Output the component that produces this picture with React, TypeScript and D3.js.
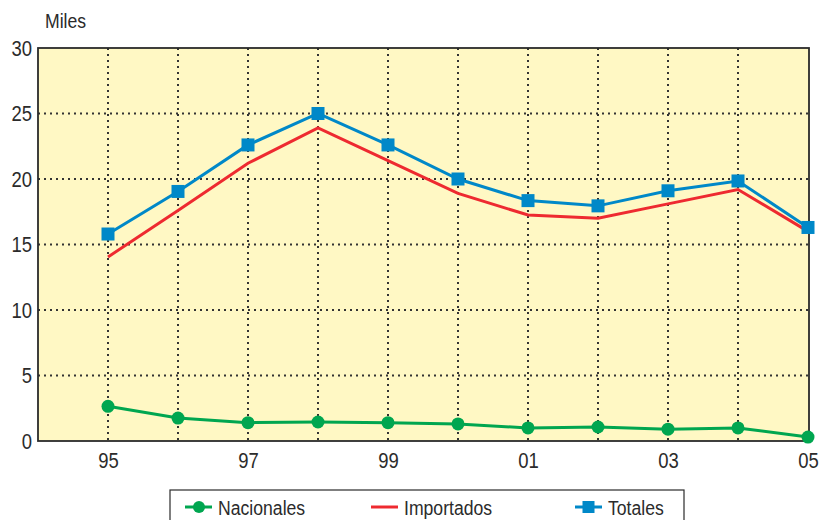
import { useEffect, useRef } from 'react';
import * as d3 from 'd3';

const years = [1995, 1996, 1997, 1998, 1999, 2000, 2001, 2002, 2003, 2004, 2005];
const xTickYears = [1995, 1997, 1999, 2001, 2003, 2005];
const nacionales = [2.65, 1.75, 1.4, 1.45, 1.4, 1.3, 1.0, 1.07, 0.9, 1.0, 0.3];
const importados = [14.05, 17.6, 21.2, 23.9, 21.4, 18.9, 17.25, 17.0, 18.1, 19.2, 16.0];
const totales = [15.8, 19.05, 22.6, 25.0, 22.6, 20.0, 18.35, 17.95, 19.1, 19.85, 16.3];
const yTicks = [0, 5, 10, 15, 20, 25, 30];

const FONT = '"Liberation Sans", Arial, sans-serif';
const GREEN = '#00a650';
const RED = '#ee2a30';
const BLUE = '#0088c8';
const TEXT = '#2b2b2b';

// narrow the text like a condensed face
const condense = (sel: any, origin: string) =>
  sel.style('transform-box', 'fill-box')
    .style('transform-origin', origin)
    .style('transform', 'scaleX(0.84)');

const App = () => {
  const svgRef = useRef<SVGSVGElement>(null);

  useEffect(() => {
    const width = 820;
    const height = 520;
    const plot = { left: 38, right: 809, top: 48, bottom: 441 };

    const svg = d3.select(svgRef.current);
    svg.selectAll('*').remove();
    svg.attr('width', width).attr('height', height);

    const x = d3.scaleLinear().domain([1994, 2005]).range([plot.left, plot.right - 1]);
    const y = d3.scaleLinear().domain([0, 30]).range([plot.bottom, plot.top]);

    // Background
    svg.append('rect')
      .attr('x', plot.left)
      .attr('y', plot.top)
      .attr('width', plot.right - plot.left)
      .attr('height', plot.bottom - plot.top)
      .attr('fill', '#fff8c4');

    // Grid
    const grid = svg.append('g')
      .attr('stroke', '#333')
      .attr('stroke-width', 2)
      .attr('stroke-dasharray', '2,4');
    grid.selectAll('line.v')
      .data(years.slice(0, -1))
      .join('line')
      .attr('x1', d => x(d))
      .attr('x2', d => x(d))
      .attr('y1', plot.top)
      .attr('y2', plot.bottom);
    grid.selectAll('line.h')
      .data(yTicks.slice(1, -1))
      .join('line')
      .attr('x1', plot.left)
      .attr('x2', plot.right)
      .attr('y1', d => y(d))
      .attr('y2', d => y(d));

    // Border
    svg.append('rect')
      .attr('x', plot.left)
      .attr('y', plot.top)
      .attr('width', plot.right - plot.left)
      .attr('height', plot.bottom - plot.top)
      .attr('fill', 'none')
      .attr('stroke', '#2b2b2b')
      .attr('stroke-width', 1.8);

    // Axes
    const yAxis = svg.append('g')
      .attr('transform', `translate(${plot.left},0)`)
      .call(d3.axisLeft(y).tickValues(yTicks).tickSize(0).tickPadding(6));
    yAxis.select('.domain').remove();
    condense(yAxis.selectAll('text')
      .style('font-family', FONT)
      .style('font-size', '22px')
      .style('fill', TEXT), 'right center');

    const xAxis = svg.append('g')
      .attr('transform', `translate(0,${plot.bottom})`)
      .call(d3.axisBottom(x).tickValues(xTickYears).tickSize(0).tickPadding(11)
        .tickFormat(d => String(d).slice(2)));
    xAxis.select('.domain').remove();
    condense(xAxis.selectAll('text')
      .style('font-family', FONT)
      .style('font-size', '22px')
      .style('fill', TEXT), 'center');

    condense(svg.append('text')
      .attr('x', 45)
      .attr('y', 28)
      .style('font-family', FONT)
      .style('font-size', '21px')
      .style('fill', TEXT)
      .text('Miles'), 'left center');

    // Lines
    const series = [
      { name: 'Importados', values: importados, color: RED, marker: 'none' },
      { name: 'Totales', values: totales, color: BLUE, marker: 'square' },
      { name: 'Nacionales', values: nacionales, color: GREEN, marker: 'circle' },
    ];
    const line = d3.line<number>()
      .x((_, i) => x(years[i]))
      .y(d => y(d));

    series.forEach(s => {
      svg.append('path')
        .datum(s.values)
        .attr('d', line)
        .attr('fill', 'none')
        .attr('stroke', s.color)
        .attr('stroke-width', 3);
      if (s.marker === 'circle') {
        svg.append('g').selectAll('circle')
          .data(s.values)
          .join('circle')
          .attr('cx', (_, i) => x(years[i]))
          .attr('cy', d => y(d))
          .attr('r', 6.5)
          .attr('fill', s.color);
      } else if (s.marker === 'square') {
        svg.append('g').selectAll('rect')
          .data(s.values)
          .join('rect')
          .attr('x', (_, i) => x(years[i]) - 6.5)
          .attr('y', d => y(d) - 6.5)
          .attr('width', 13)
          .attr('height', 13)
          .attr('fill', s.color);
      }
    });

    // Legend
    svg.append('rect')
      .attr('x', 170)
      .attr('y', 490)
      .attr('width', 514)
      .attr('height', 40)
      .attr('fill', '#fff')
      .attr('stroke', '#2b2b2b')
      .attr('stroke-width', 1.2);

    const legendItems = [
      { name: 'Nacionales', color: GREEN, marker: 'circle', x: 185 },
      { name: 'Importados', color: RED, marker: 'none', x: 371 },
      { name: 'Totales', color: BLUE, marker: 'square', x: 575 },
    ];
    const ly = 507;
    legendItems.forEach(item => {
      const g = svg.append('g');
      g.append('line')
        .attr('x1', item.x)
        .attr('x2', item.x + 27)
        .attr('y1', ly)
        .attr('y2', ly)
        .attr('stroke', item.color)
        .attr('stroke-width', 3);
      if (item.marker === 'circle') {
        g.append('circle').attr('cx', item.x + 14).attr('cy', ly).attr('r', 6).attr('fill', item.color);
      } else if (item.marker === 'square') {
        g.append('rect').attr('x', item.x + 7.5).attr('y', ly - 6).attr('width', 12).attr('height', 12).attr('fill', item.color);
      }
      condense(g.append('text')
        .attr('x', item.x + 33)
        .attr('y', ly + 8)
        .style('font-family', FONT)
        .style('font-size', '21px')
        .style('fill', TEXT)
        .text(item.name), 'left center');
    });
  }, []);

  return (
    <div style={{ position: 'absolute', left: 0, top: 0, width: 820, height: 520, background: '#fff' }}>
      <svg ref={svgRef} style={{ display: 'block' }} />
    </div>
  );
};

export default App;
